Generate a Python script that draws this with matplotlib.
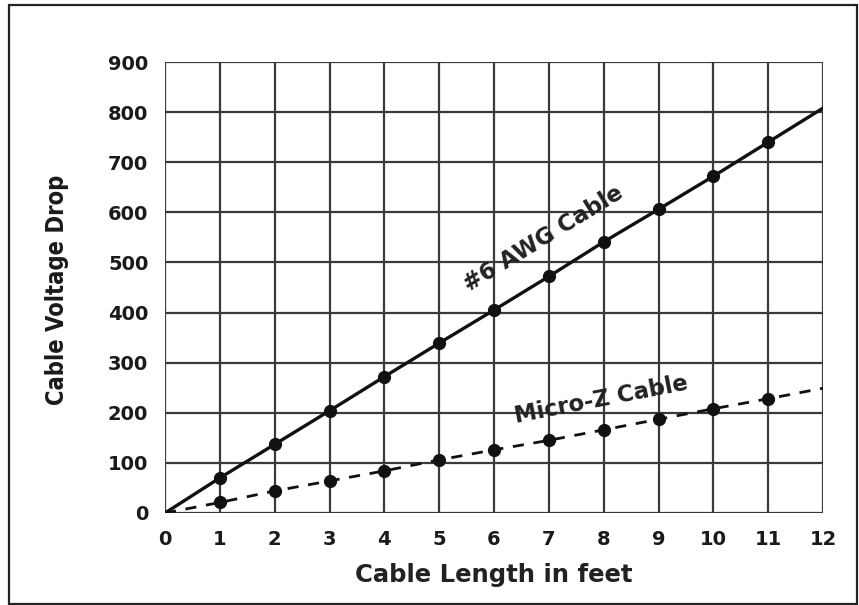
import matplotlib.pyplot as plt
from matplotlib import font_manager
from matplotlib.patches import Rectangle

# Values
cable_length = [0, 1, 2, 3, 4, 5, 6, 7, 8, 9, 10, 11, 12]
awg6_drop = [0, 70, 137, 204, 272, 339, 405, 472, 541, 606, 672, 740, 808]
microz_drop = [0, 21, 44, 64, 84, 106, 126, 145, 166, 187, 208, 228, 249]

x_ticks = list(range(0, 13))
y_ticks = list(range(0, 1000, 100))

W, H = 859, 605
fig = plt.figure(figsize=(W / 100, H / 100), dpi=100)
ax = fig.add_axes([165 / W, 1 - 513 / H, (823 - 165) / W, (513 - 62) / H])

# Grid
grid_kw = dict(color="#3a3a3a", linewidth=1.6, zorder=1)
for x in x_ticks:
    ax.axvline(x, **grid_kw)
for y in y_ticks:
    ax.axhline(y, **grid_kw)

# Data lines (markers only at 1..11)
ax.plot(cable_length, awg6_drop, "-o", color="#111111", linewidth=2.4,
        markersize=8.5, markevery=list(range(1, 12)), zorder=3)
ax.plot(cable_length, microz_drop, "--o", color="#111111", linewidth=2.0,
        dashes=(4, 3.5), markersize=8.5, markevery=list(range(1, 12)), zorder=3)

# In-plot labels
ax.text(6.9, 548, "#6 AWG Cable", rotation=31.5, ha="center", va="center",
        fontsize=16.4, fontweight="bold", color="#222222", zorder=4)
ax.text(7.95, 226, "Micro-Z Cable", rotation=11, ha="center", va="center",
        fontsize=16.4, fontweight="bold", color="#222222", zorder=4)

ax.set_xlim(0, 12)
ax.set_ylim(0, 900)
ax.set_xticks(x_ticks)
ax.set_yticks(y_ticks)
ax.tick_params(length=0, labelsize=14, pad=12, colors="#1a1a1a")
for lbl in ax.get_xticklabels() + ax.get_yticklabels():
    lbl.set_fontweight("heavy")
for s in ax.spines.values():
    s.set_visible(False)

ax.set_xlabel("Cable Length in feet", fontsize=17.5, fontweight="bold",
              color="#222222", labelpad=10)

# Condensed face for the y label if one is installed
names = {(f.name, f.stretch) for f in font_manager.fontManager.ttflist}
if any(n == "Liberation Sans Narrow" for n, _ in names):
    ylab_kw = dict(family="Liberation Sans Narrow", fontsize=19)
elif any(n == "DejaVu Sans" and s == "condensed" for n, s in names):
    ylab_kw = dict(family="DejaVu Sans", stretch="condensed", fontsize=17)
else:
    ylab_kw = dict(family="DejaVu Sans", fontsize=15)
fig.text(57 / W, 1 - 290 / H, "Cable Voltage Drop", rotation=90,
         ha="center", va="center", fontweight="bold", color="#1a1a1a",
         **ylab_kw)

# Outer frame of the picture
fig.patches.append(Rectangle((9 / W, 1 - 604 / H), (857 - 9) / W, (604 - 5) / H,
                             transform=fig.transFigure, fill=False,
                             edgecolor="#222222", linewidth=1.6))

fig.savefig("out.png", dpi=100)
